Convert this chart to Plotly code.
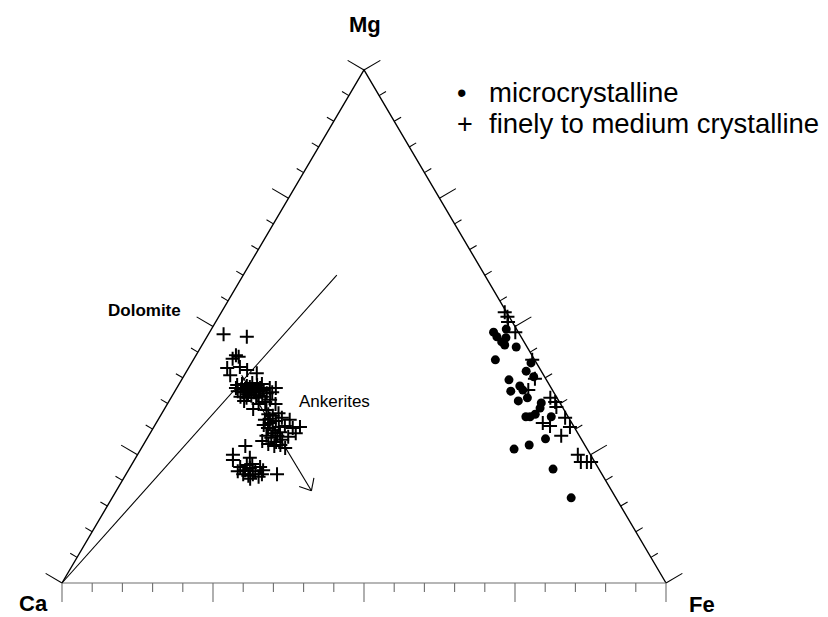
import math
import plotly.graph_objects as go

# ---------------- data (compositions in %, Ca = 100 - Mg - Fe) ----------------
# finely to medium crystalline (crosses)
cross_mg = [48.5, 48.0, 44.4, 44.1, 43.7, 41.9, 42.1, 40.5, 41.5, 40.9,
            38.6, 38.8, 38.4, 39.0, 38.6, 38.8, 37.4, 37.2, 37.6, 37.2, 37.4, 37.6,
            36.3, 36.1, 36.5, 36.1, 36.3, 37.0, 37.2, 38.0, 35.7, 34.9, 34.9, 33.9, 33.7,
            37.8, 38.2, 37.8, 38.0, 36.8, 36.6, 35.5, 35.3, 38.0, 38.0,
            32.9, 32.6, 33.1, 31.8, 31.2, 31.6, 32.2, 30.2, 29.8, 30.4, 30.6, 28.7, 28.3,
            28.7, 27.9, 27.7, 27.1, 26.7, 26.9, 26.3,
            32.0, 29.2, 29.4, 27.5, 30.8,
            31.8, 30.2, 30.4, 29.2, 28.5,
            26.7,
            25.0, 24.0, 24.4, 22.6, 22.0, 22.4, 21.8, 22.6, 21.2, 20.9, 21.2, 20.7, 22.0, 21.2,
            23.0, 23.2, 21.8, 21.2, 20.3,
            52.8, 51.9, 50.9, 48.9, 43.5, 39.8, 37.6, 36.1, 35.3, 34.3, 32.2, 31.2, 30.6,
            30.4, 28.7, 25.0, 23.6, 23.6, 23.6]
cross_fe = [2.5, 6.6, 6.6, 7.2, 6.4, 6.4, 8.4, 7.6, 9.9, 11.8,
            9.7, 10.4, 11.4, 12.0, 13.0, 13.7, 10.4, 11.4, 12.2, 13.2, 13.9, 14.6,
            11.4, 12.5, 13.1, 14.1, 15.0, 15.4, 16.2, 16.4, 16.6, 17.9, 15.1, 14.7, 17.0,
            11.4, 12.0, 13.1, 13.8, 12.4, 14.2, 12.4, 16.0, 9.8, 15.4,
            17.7, 18.6, 19.3, 17.7, 18.8, 19.6, 20.3, 19.0, 20.0, 20.7, 21.6, 19.5, 20.5,
            21.3, 22.5, 19.3, 20.6, 21.8, 22.7, 23.8,
            18.4, 20.7, 21.4, 21.7, 18.0,
            21.8, 23.1, 24.2, 24.1, 23.2,
            17.0,
            15.8, 16.3, 18.9, 18.2, 19.3, 19.9, 21.1, 21.5, 19.4, 20.4, 21.0, 22.2, 22.3, 25.0,
            19.1, 19.9, 18.2, 22.5, 21.0,
            46.9, 47.8, 48.4, 50.6, 56.1, 58.4, 58.4, 62.8, 64.0, 64.7, 67.2, 64.0, 65.5,
            68.9, 68.3, 72.9, 74.1, 75.1, 75.8]

# microcrystalline (dots)
dot_mg = [48.9, 48.0, 47.0, 46.4, 47.8, 49.5, 46.0, 43.5, 42.9, 41.3, 40.2, 39.6, 37.4, 38.4,
          37.6, 36.1, 35.5, 35.1, 34.1, 32.9, 32.4, 32.4, 32.4, 28.1, 26.9, 26.1, 22.2, 16.6]
dot_fe = [47.0, 48.0, 49.3, 50.1, 49.6, 48.8, 52.2, 50.0, 56.2, 56.2, 58.0, 54.2, 55.6, 56.6,
          57.5, 59.0, 57.8, 61.8, 62.1, 61.9, 60.6, 61.3, 64.8, 66.0, 63.9, 61.8, 70.2, 76.0]

# Dolomite reference line (from the Ca apex) and the Dolomite -> Ankerite trend arrow
dolomite_mg = [0.0, 60.0]
dolomite_fe = [0.0, 15.5]
arrow_mg = [40.5, 18.0]
arrow_fe = [9.5, 32.3]

tick_values = list(range(0, 101, 5))
major_step = 25

apex_labels = ["Ca", "Mg", "Fe"]
legend_labels = ["microcrystalline", "finely to medium crystalline"]

# ---------------- layout constants (page pixels) ----------------
PAGE_W, PAGE_H = 828, 617
BODY = 8                                  # default page margin around the plot div
W, H = PAGE_W - BODY, PAGE_H - BODY       # figure size
X0, Y0 = 62 - BODY, 583 - BODY            # Ca apex inside the figure
SX, SY = 604, 513                         # pixels per unit (Ca->Fe width, base->Mg height)
FONT = "Liberation Sans, Arial, Helvetica, sans-serif"


def tern(mg, fe):
    """ternary composition (%) -> cartesian coordinates of the diagram"""
    return (fe + mg / 2.0) / 100.0, mg / 100.0


def txy(mgs, fes):
    pts = [tern(m, f) for m, f in zip(mgs, fes)]
    return [p[0] for p in pts], [p[1] for p in pts]


def offset(pt, ux, uy, length):
    """move a data point by `length` pixels along screen direction (ux, uy) (y down)"""
    return pt[0] + ux * length / SX, pt[1] - uy * length / SY


fig = go.Figure()

# triangle sides
ca, mg_apex, fe_apex = tern(0, 0), tern(100, 0), tern(0, 100)
fig.add_trace(go.Scatter(x=[fe_apex[0], mg_apex[0], ca[0]], y=[fe_apex[1], mg_apex[1], ca[1]],
                         mode="lines", line=dict(color="black", width=1.4),
                         hoverinfo="skip", showlegend=False))
fig.add_trace(go.Scatter(x=[ca[0], fe_apex[0]], y=[ca[1], fe_apex[1]],
                         mode="lines", line=dict(color="#6e6e6e", width=1.1),
                         hoverinfo="skip", showlegend=False))

# ticks (perpendicular to each side, outward)
ex, ey = 0.5 * SX, SY
nl = math.hypot(ex, ey)
left_n = (-ey / nl, -ex / nl)
right_n = (ey / nl, -ex / nl)

lx, ly, rx, ry, bx, by = [], [], [], [], [], []
for v in tick_values:
    major = (v % major_step == 0)
    L = 19 if major else 8
    p = tern(v, 0)                       # left side (Ca-Mg)
    q = offset(p, left_n[0], left_n[1], L)
    lx += [p[0], q[0], None]; ly += [p[1], q[1], None]
    p = tern(v, 100 - v)                 # right side (Mg-Fe)
    q = offset(p, right_n[0], right_n[1], L)
    rx += [p[0], q[0], None]; ry += [p[1], q[1], None]
    p = tern(0, v)                       # base (Ca-Fe)
    q = offset(p, 0, 1, 19 if major else 9)
    bx += [p[0], q[0], None]; by += [p[1], q[1], None]

for xs, ys, col in [(lx, ly, "black"), (rx, ry, "black"), (bx, by, "#6e6e6e")]:
    fig.add_trace(go.Scatter(x=xs, y=ys, mode="lines", line=dict(color=col, width=1.1),
                             hoverinfo="skip", showlegend=False))

# dolomite line
dx, dy = txy(dolomite_mg, dolomite_fe)
fig.add_trace(go.Scatter(x=dx, y=dy, mode="lines", line=dict(color="black", width=1.1),
                         hoverinfo="skip", showlegend=False))

# trend arrow with open head
ax, ay = txy(arrow_mg, arrow_fe)
vx = (ax[0] - ax[1]) * SX
vy = -(ay[0] - ay[1]) * SY
vn = math.hypot(vx, vy)
vx, vy = vx / vn, vy / vn
tip = (ax[1], ay[1])
heads_x, heads_y = [ax[0], ax[1], None], [ay[0], ay[1], None]
for ang in (math.radians(42), math.radians(-40)):
    ux = vx * math.cos(ang) - vy * math.sin(ang)
    uy = vx * math.sin(ang) + vy * math.cos(ang)
    q = offset(tip, ux, uy, 13)
    heads_x += [tip[0], q[0], None]
    heads_y += [tip[1], q[1], None]
fig.add_trace(go.Scatter(x=heads_x, y=heads_y, mode="lines", line=dict(color="black", width=1.1),
                         hoverinfo="skip", showlegend=False))

# data
cx, cy = txy(cross_mg, cross_fe)
fig.add_trace(go.Scatter(x=cx, y=cy, mode="markers", name=legend_labels[1],
                         marker=dict(symbol="cross-thin", size=10,
                                     line=dict(color="black", width=2)),
                         cliponaxis=False, showlegend=False))
ox, oy = txy(dot_mg, dot_fe)
fig.add_trace(go.Scatter(x=ox, y=oy, mode="markers", name=legend_labels[0],
                         marker=dict(symbol="circle", size=9, color="black"),
                         cliponaxis=False, showlegend=False))


def pax(px):
    return (px - BODY) / W


def pay(py):
    return 1 - (py - BODY) / H


annotations = [
    dict(text="<b>" + apex_labels[1] + "</b>", x=pax(365), y=pay(25), font=dict(size=22)),
    dict(text="<b>" + apex_labels[0] + "</b>", x=pax(33), y=pay(603), font=dict(size=22)),
    dict(text="<b>" + apex_labels[2] + "</b>", x=pax(702), y=pay(604), font=dict(size=22)),
    dict(text="<b>Dolomite</b>", x=pax(144), y=pay(311), font=dict(size=17)),
    dict(text="Ankerites", x=pax(334.5), y=pay(401), font=dict(size=17)),
    dict(text="•", x=pax(461.5), y=pay(92.5), font=dict(size=27)),
    dict(text="+", x=pax(465), y=pay(123.5), font=dict(size=27)),
    dict(text=legend_labels[0], x=pax(487), y=pay(93), xanchor="left", font=dict(size=27.5)),
    dict(text=legend_labels[1], x=pax(487), y=pay(123), xanchor="left", font=dict(size=27.5)),
]
for a in annotations:
    a.setdefault("xanchor", "center")
    a.update(xref="paper", yref="paper", yanchor="middle", showarrow=False)
    a["font"].update(family=FONT, color="black")

fig.update_layout(
    width=W, height=H,
    margin=dict(l=0, r=0, t=0, b=0, pad=0),
    paper_bgcolor="white", plot_bgcolor="white",
    xaxis=dict(range=[-X0 / SX, (W - X0) / SX], visible=False, fixedrange=True),
    yaxis=dict(range=[-(H - Y0) / SY, Y0 / SY], visible=False, fixedrange=True),
    annotations=annotations,
    showlegend=False,
    font=dict(family=FONT, color="black"),
)

fig.write_html("out.html")
